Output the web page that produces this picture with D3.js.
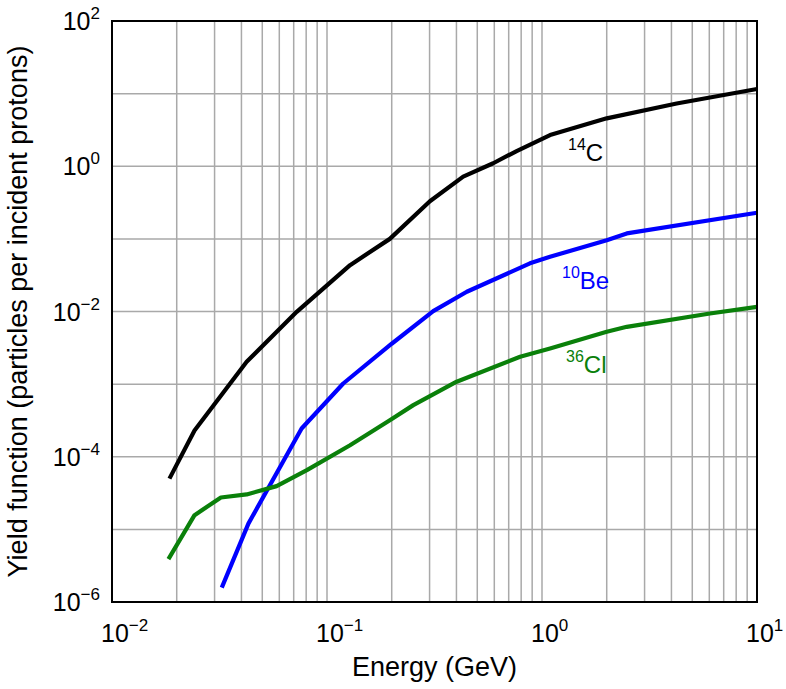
<!DOCTYPE html>
<html>
<head>
<meta charset="utf-8">
<script src="https://cdn.jsdelivr.net/npm/d3@7"></script>
<style>
  html, body { margin: 0; padding: 0; background: #fff; }
  svg { display: block; font-family: "Liberation Sans", Arial, Helvetica, sans-serif; }
</style>
</head>
<body>
<svg id="chart" width="786" height="689"></svg>
<script>
// ---- Data ----
const energyC14 = [0.0185, 0.0242, 0.0423, 0.0723, 0.128, 0.196, 0.301, 0.43, 0.593, 0.762, 1.09, 2.0, 4.23, 10];
const yieldC14  = [5.0e-5, 2.3e-4, 2.03e-3, 9.9e-3, 0.0435, 0.10, 0.33, 0.72, 1.1, 1.62, 2.69, 4.57, 7.3, 11.6];

const energyBe10 = [0.0324, 0.0431, 0.0762, 0.119, 0.2, 0.312, 0.447, 0.879, 1.09, 2.0, 2.48, 10];
const yieldBe10  = [1.58e-6, 1.2e-5, 2.45e-4, 1.02e-3, 3.6e-3, 0.0101, 0.0187, 0.046, 0.0567, 0.096, 0.119, 0.229];

const energyCl36 = [0.0183, 0.0242, 0.0321, 0.0423, 0.0583, 0.0806, 0.128, 0.196, 0.252, 0.401, 0.791, 1.09, 2.0, 2.48, 6.04, 10];
const yieldCl36  = [3.89e-6, 1.57e-5, 2.75e-5, 3.03e-5, 3.94e-5, 6.53e-5, 1.44e-4, 3.19e-4, 5.14e-4, 1.08e-3, 2.38e-3, 3.1e-3, 5.25e-3, 6.15e-3, 9.4e-3, 0.0116];

const seriesNames  = ["14C", "10Be", "36Cl"];
const seriesMass   = ["14", "10", "36"];
const seriesElem   = ["C", "Be", "Cl"];
const seriesColors = ["#000000", "#0000ff", "#0a800a"];

const xTickExps = [-2, -1, 0, 1];
const yTickExps = [2, 0, -2, -4, -6];
const xTitle = "Energy (GeV)";
const yTitle = "Yield function (particles per incident protons)";

// ---- Layout ----
const L = 112, R = 757, T = 21, B = 602;
const svg = d3.select("#chart");

const x = d3.scaleLog().domain([1e-2, 1e1]).range([L, R]);
const y = d3.scaleLog().domain([1e-6, 1e2]).range([B, T]);

// grid
const gridX = [];
for (let e = -2; e < 1; e++) for (let m = 1; m <= 9; m++) gridX.push(m * Math.pow(10, e));
gridX.push(10);
const gridY = d3.range(-6, 3).map(e => Math.pow(10, e));

const g = svg.append("g");
g.selectAll("line.gx").data(gridX).join("line")
  .attr("x1", d => x(d)).attr("x2", d => x(d))
  .attr("y1", T).attr("y2", B)
  .attr("stroke", "#a9a9a9").attr("stroke-width", 1.5);
g.selectAll("line.gy").data(gridY).join("line")
  .attr("x1", L).attr("x2", R)
  .attr("y1", d => y(d)).attr("y2", d => y(d))
  .attr("stroke", "#a9a9a9").attr("stroke-width", 1.5);

// series
const seriesData = [
  energyC14.map((e, i) => [e, yieldC14[i]]),
  energyBe10.map((e, i) => [e, yieldBe10[i]]),
  energyCl36.map((e, i) => [e, yieldCl36[i]])
];
const line = d3.line().x(d => x(d[0])).y(d => y(d[1])).curve(d3.curveLinear);
svg.append("g").selectAll("path").data(seriesData).join("path")
  .attr("d", line)
  .attr("fill", "none")
  .attr("stroke", (d, i) => seriesColors[i])
  .attr("stroke-width", 4.2)
  .attr("stroke-linejoin", "round");

// frame
svg.append("rect").attr("x", L).attr("y", T).attr("width", R - L).attr("height", B - T)
  .attr("fill", "none").attr("stroke", "#000").attr("stroke-width", 2);

const expStr = e => (e < 0 ? "\u2212" + Math.abs(e) : String(e));

// x tick labels
xTickExps.forEach(e => {
  const t = svg.append("text")
    .attr("x", x(Math.pow(10, e)) - 11).attr("y", 642)
    .attr("font-size", 25).attr("fill", "#000");
  t.append("tspan").text("10");
  t.append("tspan").attr("font-size", 17).attr("dy", -11).text(expStr(e));
});

// y tick labels
yTickExps.forEach(e => {
  const t = svg.append("text")
    .attr("x", 100).attr("y", y(Math.pow(10, e)) + 9)
    .attr("text-anchor", "end")
    .attr("font-size", 25).attr("fill", "#000");
  t.append("tspan").text("10");
  t.append("tspan").attr("font-size", 17).attr("dy", -11).text(expStr(e));
});

// axis titles
svg.append("text").attr("x", (L + R) / 2).attr("y", 676)
  .attr("text-anchor", "middle").attr("font-size", 27).text(xTitle);
svg.append("text").attr("transform", "translate(27," + ((T + B) / 2) + ") rotate(-90)")
  .attr("text-anchor", "middle").attr("font-size", 27).text(yTitle);

// series labels
const labelPos = [[568, 161], [562, 289], [566, 373]];
seriesNames.forEach((n, i) => {
  const t = svg.append("text")
    .attr("x", labelPos[i][0]).attr("y", labelPos[i][1])
    .attr("fill", seriesColors[i]);
  t.append("tspan").attr("font-size", 16).attr("dy", -11).text(seriesMass[i]);
  t.append("tspan").attr("font-size", 24).attr("dy", 11).text(seriesElem[i]);
});
</script>
</body>
</html>
